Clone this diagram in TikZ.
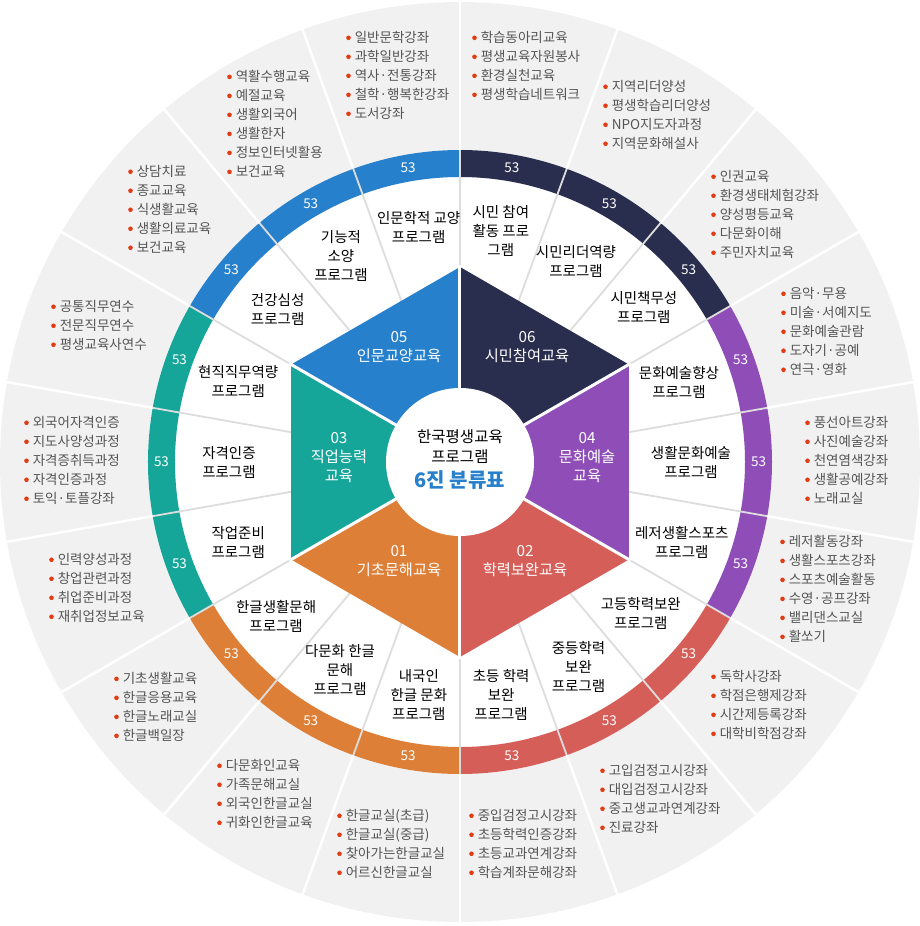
\documentclass[tikz,border=0pt]{standalone}
\usepackage{fontspec}
\setmainfont{Noto Sans CJK KR}
\usetikzlibrary{positioning}
\definecolor{kgray}{RGB}{241,241,241}
\definecolor{kline}{RGB}{221,221,221}
\definecolor{knavy}{RGB}{41,46,78}
\definecolor{kpurple}{RGB}{143,78,183}
\definecolor{kred}{RGB}{214,94,89}
\definecolor{korange}{RGB}{221,127,55}
\definecolor{kteal}{RGB}{22,166,153}
\definecolor{kblue}{RGB}{39,128,204}
\definecolor{ktext}{RGB}{85,85,85}
\definecolor{kbullet}{RGB}{226,60,20}
\newcommand{\itm}{\tikz[baseline=0pt]\fill[kbullet] (0,4.6pt) circle[radius=2.3pt];\hspace{4pt}}

\begin{document}
\begin{tikzpicture}[x=1pt,y=1pt,
  num/.style={text=white,font=\fontsize{13.5}{13.5}\selectfont,inner sep=0pt},
  prog/.style={align=center,font=\fontsize{14.5}{19}\selectfont,inner sep=0pt},
  hexlbl/.style={align=center,text=white,font=\fontsize{15.3}{19}\selectfont,inner sep=0pt},
  lst/.style={align=left,anchor=north west,inner sep=0pt,text=ktext,
              font=\fontsize{13.5}{19}\selectfont}
]
  \useasboundingbox (-460,-464) rectangle (460,462);
  \fill[kgray] (0,0) circle[radius=460];
  \fill[white] (0,0) circle[radius=312];
  % colour ring, 18 parts
  \foreach \a/\c in {90/knavy,70/knavy,50/knavy,30/kpurple,10/kpurple,-10/kpurple,
                     -30/kred,-50/kred,-70/kred,-90/korange,-110/korange,-130/korange,
                     -150/kteal,-170/kteal,-190/kteal,-210/kblue,-230/kblue,-250/kblue}{
    \fill[\c] (\a:312) arc[start angle=\a,end angle=\a-20,radius=312]
      -- (\a-20:285) arc[start angle=\a-20,end angle=\a,radius=285] -- cycle;
    \node[num] (n\a) at (\a-10:298.5) {53};
  }
  \foreach \a in {90,110,...,430}{
    \draw[kline,line width=1.8pt] (\a:150) -- (\a:312);
    \draw[white,line width=2.5pt] (\a:312) -- (\a:461);
  }
  % hexagon
  \fill[kblue]   (0,0) -- (90:195)  -- (150:195) -- cycle;
  \fill[knavy]   (0,0) -- (30:195)  -- (90:195)  -- cycle;
  \fill[kpurple] (0,0) -- (-30:195) -- (30:195)  -- cycle;
  \fill[kred]    (0,0) -- (-90:195) -- (-30:195) -- cycle;
  \fill[korange] (0,0) -- (210:195) -- (270:195) -- cycle;
  \fill[kteal]   (0,0) -- (150:195) -- (210:195) -- cycle;
  \foreach \a in {30,90,...,330}
    \draw[white,line width=3pt] (0,0) -- (\a:197);
  \node[circle,fill=white,minimum size=148pt] (ctr) at (0,0) {};
  \node[align=center,font=\fontsize{15.5}{20}\selectfont] (title) at (0,15) {한국평생교육\\프로그램};
  \node[text=kblue,font=\fontsize{20}{20}\selectfont\bfseries] (title2) at (0,-18) {6진 분류표};

  \node[hexlbl] (h05) at (-61,115) {05\\인문교양교육};
  \node[hexlbl] (h06) at (67,115)  {06\\시민참여교육};
  \node[hexlbl] (h03) at (-121,4)  {03\\직업능력\\교육};
  \node[hexlbl] (h04) at (127,4)   {04\\문화예술\\교육};
  \node[hexlbl] (h01) at (-61,-99) {01\\기초문해교육};
  \node[hexlbl] (h02) at (65,-99)  {02\\학력보완교육};

  % programs
  \node[prog] (p100) at (100:238) {인문학적 교양\\프로그램};
  \node[prog] (p120) at (120:238) {기능적\\소양\\프로그램};
  \node[prog] (p140) at (140:238) {건강심성\\프로그램};
  \node[prog] (p160) at (160:236) {현직직무역량\\프로그램};
  \node[prog] (p180) at (180:231) {자격인증\\프로그램};
  \node[prog] (p200) at (200:236) {작업준비\\프로그램};
  \node[prog] (p220) at (220:240) {한글생활문해\\프로그램};
  \node[prog] (p240) at (240:240) {다문화 한글\\문해\\프로그램};
  \node[prog] (p260) at (260:237) {내국인\\한글 문화\\프로그램};
  \node[prog] (p280) at (280:237) {초등 학력\\보완\\프로그램};
  \node[prog] (p300) at (300:237) {중등학력\\보완\\프로그램};
  \node[prog] (p320) at (320:236) {고등학력보완\\프로그램};
  \node[prog] (p340) at (340:236) {레저생활스포츠\\프로그램};
  \node[prog] (p0)   at (0:231)   {생활문화예술\\프로그램};
  \node[prog] (p20)  at (20:233)  {문화예술향상\\프로그램};
  \node[prog] (p40)  at (40:240)  {시민책무성\\프로그램};
  \node[prog] (p60)  at (60:232)  {시민리더역량\\프로그램};
  \node[prog] (p80)  at (80:235)  {시민 참여\\활동 프로\\그램};

  % course lists
  \node[lst] (l100) at (-114,431) {\itm 일반문학강좌\\\itm 과학일반강좌\\\itm 역사·전통강좌\\\itm 철학·행복한강좌\\\itm 도서강좌};
  \node[lst] (l80)  at (12,431)   {\itm 학습동아리교육\\\itm 평생교육자원봉사\\\itm 환경실천교육\\\itm 평생학습네트워크};
  \node[lst] (l60)  at (143,382)  {\itm 지역리더양성\\\itm 평생학습리더양성\\\itm NPO지도자과정\\\itm 지역문화해설사};
  \node[lst] (l40)  at (251,292)  {\itm 인권교육\\\itm 환경생태체험강좌\\\itm 양성평등교육\\\itm 다문화이해\\\itm 주민자치교육};
  \node[lst] (l20)  at (321,175)  {\itm 음악·무용\\\itm 미술·서예지도\\\itm 문화예술관람\\\itm 도자기·공예\\\itm 연극·영화};
  \node[lst] (l0)   at (345,46)   {\itm 풍선아트강좌\\\itm 사진예술강좌\\\itm 천연염색강좌\\\itm 생활공예강좌\\\itm 노래교실};
  \node[lst] (l340) at (320,-73)  {\itm 레저활동강좌\\\itm 생활스포츠강좌\\\itm 스포츠예술활동\\\itm 수영·공프강좌\\\itm 밸리댄스교실\\\itm 활쏘기};
  \node[lst] (l320) at (251,-208) {\itm 독학사강좌\\\itm 학점은행제강좌\\\itm 시간제등록강좌\\\itm 대학비학점강좌};
  \node[lst] (l300) at (140,-302) {\itm 고입검정고시강좌\\\itm 대입검정고시강좌\\\itm 중고생교과연계강좌\\\itm 진료강좌};
  \node[lst] (l280) at (9,-347)   {\itm 중입검정고시강좌\\\itm 초등학력인증강좌\\\itm 초등교과연계강좌\\\itm 학습계좌문해강좌};
  \node[lst] (l260) at (-123,-347) {\itm 한글교실(초급)\\\itm 한글교실(중급)\\\itm 찾아가는한글교실\\\itm 어르신한글교실};
  \node[lst] (l240) at (-243,-297) {\itm 다문화인교육\\\itm 가족문해교실\\\itm 외국인한글교실\\\itm 귀화인한글교육};
  \node[lst] (l220) at (-346,-210) {\itm 기초생활교육\\\itm 한글응용교육\\\itm 한글노래교실\\\itm 한글백일장};
  \node[lst] (l200) at (-411,-91) {\itm 인력양성과정\\\itm 창업관련과정\\\itm 취업준비과정\\\itm 재취업정보교육};
  \node[lst] (l180) at (-436,46)  {\itm 외국어자격인증\\\itm 지도사양성과정\\\itm 자격증취득과정\\\itm 자격인증과정\\\itm 토익·토플강좌};
  \node[lst] (l160) at (-409,162) {\itm 공통직무연수\\\itm 전문직무연수\\\itm 평생교육사연수};
  \node[lst] (l140) at (-332,297) {\itm 상담치료\\\itm 종교교육\\\itm 식생활교육\\\itm 생활의료교육\\\itm 보건교육};
  \node[lst] (l120) at (-233,392) {\itm 역활수행교육\\\itm 예절교육\\\itm 생활외국어\\\itm 생활한자\\\itm 정보인터넷활용\\\itm 보건교육};
\end{tikzpicture}
\end{document}
